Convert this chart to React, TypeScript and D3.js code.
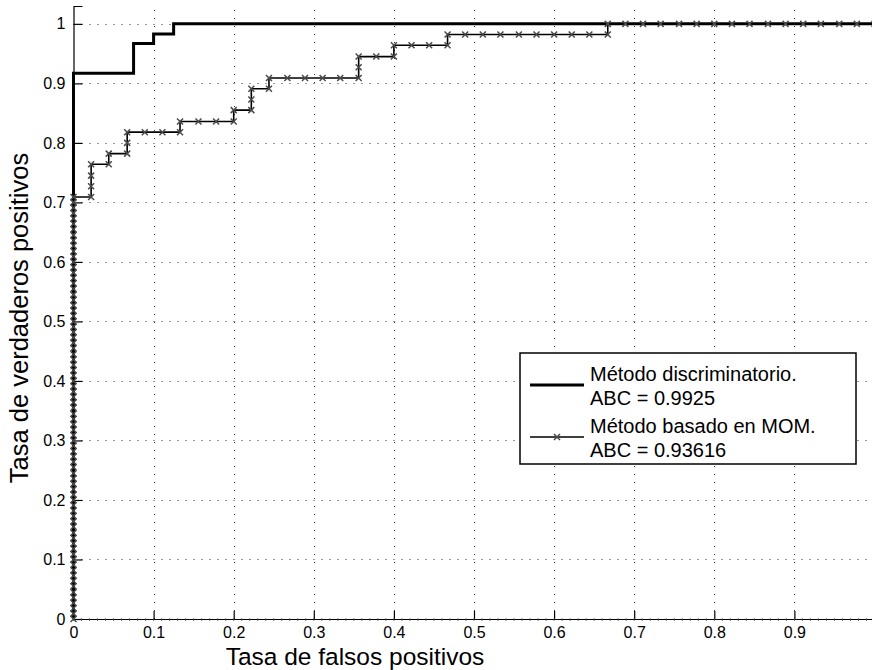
import React, { useEffect, useRef } from "react";
import * as d3 from "d3";

// ROC curves
const discFpr = [0, 0, 0.075, 0.1, 0.125, 1];
const discTpr = [0, 0.917, 0.967, 0.983, 1, 1];

// MOM curve: dense column of points at fpr = 0
const momZeroTpr = [
  0, 0.009, 0.018, 0.027, 0.036, 0.045, 0.055, 0.064, 0.073, 0.082, 0.091, 0.1,
  0.109, 0.118, 0.127, 0.136, 0.145, 0.155, 0.164, 0.173, 0.182, 0.191, 0.2,
  0.209, 0.218, 0.227, 0.236, 0.245, 0.255, 0.264, 0.273, 0.282, 0.291, 0.3,
  0.309, 0.318, 0.327, 0.336, 0.345, 0.355, 0.364, 0.373, 0.382, 0.391, 0.4,
  0.409, 0.418, 0.427, 0.436, 0.445, 0.455, 0.464, 0.473, 0.482, 0.491, 0.5,
  0.509, 0.518, 0.527, 0.536, 0.545, 0.555, 0.564, 0.573, 0.582, 0.591, 0.6,
  0.609, 0.618, 0.627, 0.636, 0.645, 0.655, 0.664, 0.673, 0.682, 0.691, 0.7, 0.709,
];
// rest of the MOM curve
const momFpr = [
  0.022, 0.022, 0.022, 0.022, 0.044, 0.044, 0.067, 0.067, 0.067, 0.089, 0.111,
  0.133, 0.133, 0.156, 0.178, 0.2, 0.2, 0.222, 0.222, 0.222, 0.244, 0.244,
  0.267, 0.289, 0.311, 0.333, 0.356, 0.356, 0.356, 0.378, 0.4, 0.4, 0.422,
  0.444, 0.467, 0.467, 0.489, 0.511, 0.533, 0.556, 0.578, 0.6, 0.622, 0.644,
  0.667, 0.667, 0.689, 0.711, 0.733, 0.756, 0.778, 0.8, 0.822, 0.844, 0.867,
  0.889, 0.911, 0.933, 0.956, 0.978, 1,
];
const momTpr = [
  0.709, 0.727, 0.745, 0.764, 0.764, 0.782, 0.782, 0.8, 0.818, 0.818, 0.818,
  0.818, 0.836, 0.836, 0.836, 0.836, 0.855, 0.855, 0.873, 0.891, 0.891, 0.909,
  0.909, 0.909, 0.909, 0.909, 0.909, 0.927, 0.945, 0.945, 0.945, 0.964, 0.964,
  0.964, 0.964, 0.982, 0.982, 0.982, 0.982, 0.982, 0.982, 0.982, 0.982, 0.982,
  0.982, 1, 1, 1, 1, 1, 1, 1, 1, 1, 1, 1, 1, 1, 1, 1, 1,
];

const xTicks = [0, 0.1, 0.2, 0.3, 0.4, 0.5, 0.6, 0.7, 0.8, 0.9];
const yTicks = [0, 0.1, 0.2, 0.3, 0.4, 0.5, 0.6, 0.7, 0.8, 0.9, 1];

const legendItems = [
  { lines: ["Método discriminatorio.", "ABC = 0.9925"], type: "disc" },
  { lines: ["Método basado en MOM.", "ABC = 0.93616"], type: "mom" },
];

const W = 872;
const H = 670;
const FONT = "'Liberation Sans', Arial, Helvetica, sans-serif";

export default function App() {
  const svgRef = useRef<SVGSVGElement>(null);

  useEffect(() => {
    const svg = d3.select(svgRef.current);
    svg.selectAll("*").remove();

    const x = d3.scaleLinear().domain([0, 1]).range([73.5, 874.5]);
    const y = d3.scaleLinear().domain([0, 1.03]).range([619, 6]);

    // grid
    const grid = svg.append("g").attr("stroke", "#333").attr("stroke-width", 1)
      .attr("stroke-dasharray", "1,7");
    xTicks.filter(d => d > 0).forEach(t => {
      grid.append("line")
        .attr("x1", Math.round(x(t)) + 0.5).attr("x2", Math.round(x(t)) + 0.5)
        .attr("y1", y(0)).attr("y2", y(1.03));
    });
    yTicks.filter(d => d > 0).forEach(t => {
      grid.append("line")
        .attr("x1", x(0)).attr("x2", W)
        .attr("y1", Math.round(y(t)) + 0.5).attr("y2", Math.round(y(t)) + 0.5);
    });

    // axes
    const xAxis = svg.append("g").attr("transform", `translate(0,${y(0)})`)
      .call(d3.axisBottom(x).tickValues(xTicks).tickSize(-8).tickPadding(8)
        .tickFormat(d => d3.format("")(d as number)));
    const yAxis = svg.append("g").attr("transform", `translate(${x(0)},0)`)
      .call(d3.axisLeft(y).tickValues(yTicks).tickSize(-9).tickPadding(8)
        .tickFormat(d => d3.format("")(d as number)));
    [xAxis, yAxis].forEach(a => {
      a.select(".domain").attr("stroke", "#000").attr("stroke-width", 1.2);
      a.selectAll(".tick line").attr("stroke", "#000").attr("stroke-width", 1.2);
      a.selectAll("text").attr("font-family", FONT).attr("font-size", 16).attr("fill", "#000");
    });

    // minor ticks along the x axis
    svg.append("g").selectAll("line")
      .data(d3.range(0, 101).map(i => i / 100))
      .join("line")
      .attr("x1", d => x(d)).attr("x2", d => x(d))
      .attr("y1", y(0) - 1).attr("y2", y(0) + 2)
      .attr("stroke", "#555").attr("stroke-width", 0.8);

    // discriminatory curve
    const discLine = d3.line<number>()
      .x((_, i) => x(discFpr[i])).y(d => y(d))
      .curve(d3.curveStepAfter);
    svg.append("path")
      .attr("d", discLine(discTpr))
      .attr("fill", "none").attr("stroke", "#000").attr("stroke-width", 3);

    // MOM curve
    const momPts: [number, number][] = [
      ...momZeroTpr.map(v => [0, v] as [number, number]),
      ...momFpr.map((f, i) => [f, momTpr[i]] as [number, number]),
    ];
    const momLine = d3.line<[number, number]>().x(d => x(d[0])).y(d => y(d[1]));
    svg.append("path")
      .attr("d", momLine(momPts))
      .attr("fill", "none").attr("stroke", "#000").attr("stroke-width", 1.6);

    const cross = (g: any, cx: number, cy: number, r = 3) => {
      g.append("path")
        .attr("d", `M${cx - r},${cy - r}L${cx + r},${cy + r}M${cx - r},${cy + r}L${cx + r},${cy - r}`)
        .attr("stroke", "#4a4a4a").attr("stroke-width", 1.5).attr("fill", "none");
    };
    const markers = svg.append("g");
    momPts.forEach(p => cross(markers, x(p[0]), y(p[1])));

    // axis labels
    svg.append("text")
      .attr("x", 355).attr("y", 665)
      .attr("text-anchor", "middle")
      .attr("font-family", FONT).attr("font-size", 24.5)
      .text("Tasa de falsos positivos");
    svg.append("text")
      .attr("transform", `translate(28,318) rotate(-90)`)
      .attr("text-anchor", "middle")
      .attr("font-family", FONT).attr("font-size", 25.5)
      .text("Tasa de verdaderos positivos");

    // legend
    const legend = svg.append("g");
    legend.append("rect")
      .attr("x", 520).attr("y", 353).attr("width", 336).attr("height", 111)
      .attr("fill", "#fff").attr("stroke", "#000").attr("stroke-width", 1.5);
    legendItems.forEach((item, i) => {
      const top = 381 + i * 52;
      item.lines.forEach((t, j) => {
        legend.append("text")
          .attr("x", 590).attr("y", top + j * 24)
          .attr("font-family", FONT).attr("font-size", 20)
          .text(t);
      });
      const ly = top + 4;
      legend.append("line")
        .attr("x1", 530).attr("x2", 584).attr("y1", ly).attr("y2", ly)
        .attr("stroke", "#000").attr("stroke-width", item.type === "disc" ? 3 : 1.6);
      if (item.type === "mom") cross(legend, 557, ly);
    });
  }, []);

  return (
    <div style={{ position: "absolute", left: 0, top: 0 }}>
      <svg ref={svgRef} width={W} height={H} style={{ display: "block", background: "#fff" }} />
    </div>
  );
}
